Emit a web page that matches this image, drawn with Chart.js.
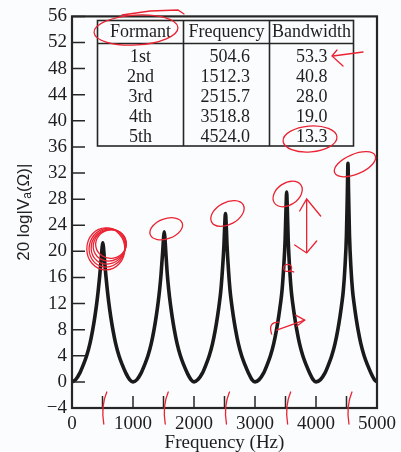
<!DOCTYPE html>
<html>
<head>
<meta charset="utf-8">
<script src="https://cdn.jsdelivr.net/npm/chart.js@4.4.1/dist/chart.umd.min.js"></script>
<style>
  html, body { margin: 0; padding: 0; background: #fbfcfd; }
  #wrap { width: 401px; height: 452px; }
</style>
</head>
<body>
<div id="wrap"><canvas id="formantChart" width="401" height="452"></canvas></div>
<script>
// formant table
const formantNames = ["1st", "2nd", "3rd", "4th", "5th"];
const formantFreq = [504.6, 1512.3, 2515.7, 3518.8, 4524.0];
const formantBw = [53.3, 40.8, 28.0, 19.0, 13.3];

// curve: frequency (Hz) / 20 log|Va| (dB)
const freqHz = [
  0, 60, 125, 185, 240, 295, 340, 375, 405, 430, 455, 480, 495, 505, 515, 530, 555, 580, 605, 635, 670, 715, 770, 825, 885, 945,
  1000, 1065, 1130, 1190, 1245, 1300, 1345, 1380, 1410, 1435, 1460, 1487, 1502, 1512, 1522, 1537, 1562, 1587, 1612, 1642, 1677, 1722, 1777, 1832, 1892, 1950,
  2000, 2065, 2135, 2195, 2250, 2305, 2350, 2385, 2415, 2440, 2465, 2491, 2506, 2516, 2526, 2541, 2566, 2591, 2616, 2646, 2681, 2726, 2781, 2836, 2896, 2950,
  3000, 3068, 3138, 3198, 3253, 3308, 3353, 3388, 3418, 3443, 3468, 3494, 3509, 3519, 3529, 3544, 3569, 3594, 3619, 3649, 3684, 3729, 3784, 3839, 3899, 3953,
  4000, 4073, 4143, 4203, 4258, 4313, 4358, 4393, 4423, 4448, 4473, 4499, 4514, 4524, 4534, 4549, 4574, 4599, 4624, 4654, 4689, 4734, 4789, 4844, 4904, 4958, 5000
];
const levelDb = [
  0, 0.35, 1.3, 2.6, 4.0, 5.9, 8.0, 10.0, 12.0, 14.0, 16.3, 19.0, 20.7, 21.3, 20.7, 19.0, 16.3, 14.0, 12.0, 10.0, 8.0, 5.9, 4.0, 2.6, 1.3, 0.35,
  0, 0.35, 1.3, 2.6, 4.0, 5.9, 8.0, 10.0, 12.0, 14.0, 16.5, 20.0, 22.2, 23.0, 22.2, 20.0, 16.5, 14.0, 12.0, 10.0, 8.0, 5.9, 4.0, 2.6, 1.3, 0.35,
  0, 0.35, 1.3, 2.6, 4.0, 5.9, 8.0, 10.0, 12.0, 14.0, 17.0, 21.0, 24.5, 25.8, 24.5, 21.0, 17.0, 14.0, 12.0, 10.0, 8.0, 5.9, 4.0, 2.6, 1.3, 0.35,
  0, 0.35, 1.3, 2.6, 4.0, 5.9, 8.0, 10.0, 12.0, 14.0, 17.2, 21.8, 26.8, 29.1, 26.8, 21.8, 17.2, 14.0, 12.0, 10.0, 8.0, 5.9, 4.0, 2.6, 1.3, 0.35,
  0, 0.35, 1.3, 2.6, 4.0, 5.9, 8.0, 10.0, 12.0, 14.0, 17.3, 22.5, 29.0, 33.5, 29.0, 22.5, 17.3, 14.0, 12.0, 10.0, 8.0, 5.9, 4.0, 2.6, 1.3, 0.35, 0
];

const yTicks = [-4, 0, 4, 8, 12, 16, 20, 24, 28, 32, 36, 40, 44, 48, 52, 56];
const xTicks = [0, 500, 1000, 1500, 2000, 2500, 3000, 3500, 4000, 4500, 5000];
const xLabelTicks = [0, 1000, 2000, 3000, 4000, 5000];

const ink = "#262626";
const red = "#ea2333";
const serif = "'Liberation Serif', 'Times New Roman', serif";

function ellipse(ctx, cx, cy, rx, ry, rot, a0 = 0, a1 = Math.PI * 2) {
  ctx.beginPath();
  ctx.ellipse(cx, cy, rx, ry, rot, a0, a1);
  ctx.stroke();
}

function line(ctx, pts) {
  ctx.beginPath();
  ctx.moveTo(pts[0][0], pts[0][1]);
  for (let i = 1; i < pts.length; i++) ctx.lineTo(pts[i][0], pts[i][1]);
  ctx.stroke();
}

// frame, inward ticks, table, y title and the red pen marks
const decorPlugin = {
  id: "decor",
  afterDraw(chart) {
    const { ctx, chartArea: a } = chart;
    const x = chart.scales.x, y = chart.scales.y;
    ctx.save();

    ctx.strokeStyle = ink;
    ctx.lineWidth = 1.5;
    ctx.beginPath();
    yTicks.forEach(v => {
      const py = y.getPixelForValue(v);
      ctx.moveTo(a.left, py);
      ctx.lineTo(a.left + 13, py);
    });
    xTicks.forEach(v => {
      const px = x.getPixelForValue(v);
      ctx.moveTo(px, a.bottom);
      ctx.lineTo(px, a.bottom - 12);
    });
    ctx.stroke();

    ctx.lineWidth = 2.2;
    ctx.strokeRect(a.left, a.top, a.right - a.left, a.bottom - a.top);

    // table
    const tL = 97.5, tR = 353.5, tT = 20.5, tB = 146, hB = 43.5, c1 = 183.5, c2 = 269.5;
    ctx.lineWidth = 1.6;
    ctx.strokeRect(tL, tT, tR - tL, tB - tT);
    line(ctx, [[tL, hB], [tR, hB]]);
    line(ctx, [[c1, tT], [c1, tB]]);
    line(ctx, [[c2, tT], [c2, tB]]);
    ctx.fillStyle = "#1e1e1e";
    ctx.font = "18px " + serif;
    ctx.textBaseline = "middle";
    ctx.textAlign = "center";
    ctx.fillText("Formant", (tL + c1) / 2, 32.5);
    ctx.fillText("Frequency", (c1 + c2) / 2, 32.5);
    ctx.fillText("Bandwidth", (c2 + tR) / 2, 32.5);
    formantNames.forEach((n, i) => {
      const ry = 57.5 + i * 20;
      ctx.textAlign = "center";
      ctx.fillText(n, (tL + c1) / 2, ry);
      ctx.textAlign = "right";
      ctx.fillText(formantFreq[i].toFixed(1), 250, ry);
      ctx.fillText(formantBw[i].toFixed(1), 327.5, ry);
    });

    // y title with subscript
    ctx.save();
    ctx.translate(24, (a.top + a.bottom) / 2);
    ctx.rotate(-Math.PI / 2);
    const big = "17px 'Liberation Sans', Arial, sans-serif";
    const small = "12px 'Liberation Sans', Arial, sans-serif";
    const parts = [["20 log|V", big, 0], ["a", small, 4], ["(\u03A9)|", big, 0]];
    let total = 0;
    parts.forEach(p => { ctx.font = p[1]; total += ctx.measureText(p[0]).width; });
    let cx = -total / 2;
    ctx.textAlign = "left";
    ctx.fillStyle = "#222";
    parts.forEach(p => {
      ctx.font = p[1];
      ctx.fillText(p[0], cx, p[2]);
      cx += ctx.measureText(p[0]).width;
    });
    ctx.restore();

    // x title
    ctx.font = "19px " + serif;
    ctx.textAlign = "center";
    ctx.fillText("Frequency (Hz)", (a.left + a.right) / 2, 443);

    // red pen marks
    ctx.strokeStyle = red;
    ctx.lineWidth = 1.3;
    ctx.lineCap = "round";
    ellipse(ctx, 136, 30, 42, 15, -0.06);
    line(ctx, [[122, 15], [150, 11], [178, 10], [184, 14]]);
    ellipse(ctx, 310, 139, 27, 13, -0.08);
    line(ctx, [[363, 52], [333, 56]]);
    line(ctx, [[337, 50], [332, 56], [343, 66]]);

    const peakIdx = formantFreq.map(f => {
      let best = 0;
      freqHz.forEach((h, i) => { if (Math.abs(h - f) < Math.abs(freqHz[best] - f)) best = i; });
      return best;
    });
    const pk = peakIdx.map(i => [x.getPixelForValue(freqHz[i]), y.getPixelForValue(levelDb[i])]);

    // scribble on the 1st peak
    for (let k = 0; k < 5; k++) {
      ellipse(ctx, pk[0][0] + 3 + k * 1.3, pk[0][1] + 6 - k * 1.2, 19 - k * 1.2, 21 - k * 1.4, 0.35 * k);
    }
    ellipse(ctx, pk[1][0] + 2, pk[1][1] - 3, 17, 10, -0.35);
    ellipse(ctx, pk[2][0] + 2, pk[2][1], 18, 11, -0.5);
    ellipse(ctx, pk[3][0] + 1, pk[3][1] + 2, 16, 11, -0.6);
    ellipse(ctx, pk[4][0] + 7, pk[4][1] + 1, 22, 10, -0.4);

    // double arrow and small marks next to the 4th peak
    const ax = pk[3][0] + 20, ay = pk[3][1];
    line(ctx, [[ax, ay + 8], [ax, ay + 60]]);
    line(ctx, [[ax - 7, ay + 19], [ax, ay + 7], [ax + 14, ay + 24]]);
    line(ctx, [[ax - 12, ay + 53], [ax, ay + 61], [ax + 10, ay + 49]]);
    ellipse(ctx, pk[3][0] + 1, pk[3][1] + 76, 4, 3.5, 0);
    line(ctx, [[pk[3][0] + 3, pk[3][1] + 79], [pk[3][0] + 7, pk[3][1] + 80]]);
    const by = y.getPixelForValue(9);
    ctx.beginPath();
    ctx.moveTo(pk[3][0] - 15, by + 11);
    ctx.quadraticCurveTo(pk[3][0] - 19, by - 1, pk[3][0] - 8, by - 1);
    ctx.stroke();
    line(ctx, [[pk[3][0] - 10, by + 7], [pk[3][0] + 18, by - 3]]);
    line(ctx, [[pk[3][0] + 9, by - 8], [pk[3][0] + 18, by - 3], [pk[3][0] + 10, by + 3]]);

    // strokes across the x axis at each formant
    formantFreq.forEach(f => {
      const fx = x.getPixelForValue(f);
      ctx.beginPath();
      ctx.moveTo(fx + 4, a.bottom - 16);
      ctx.quadraticCurveTo(fx - 2, a.bottom - 2, fx + 1, a.bottom + 16);
      ctx.stroke();
    });

    ctx.restore();
  }
};

const ctx = document.getElementById("formantChart").getContext("2d");
new Chart(ctx, {
  type: "line",
  data: {
    datasets: [
      {
        data: freqHz.map((f, i) => ({ x: f, y: levelDb[i] })),
        borderColor: "#1a1a1a",
        borderWidth: 3.6,
        pointRadius: 0,
        cubicInterpolationMode: "monotone",
        fill: false,
      },
    ],
  },
  options: {
    responsive: false,
    animation: false,
    layout: { padding: { top: 14, right: 22, left: 0, bottom: 0 } },
    plugins: {
      legend: { display: false },
      tooltip: { enabled: false },
    },
    scales: {
      x: {
        type: "linear",
        min: 0,
        max: 5000,
        afterBuildTicks: s => { s.ticks = xTicks.map(v => ({ value: v })); },
        afterFit: s => { s.height = 44; },
        ticks: {
          autoSkip: false,
          maxRotation: 0,
          padding: 5,
          color: "#1e1e1e",
          font: { family: serif, size: 19 },
          callback: v => (xLabelTicks.includes(v) ? String(v) : ""),
        },
        grid: { display: false, drawTicks: false },
        border: { display: false },
      },
      y: {
        min: -4,
        max: 56,
        afterBuildTicks: s => { s.ticks = yTicks.map(v => ({ value: v })); },
        afterFit: s => { s.width = 72; },
        ticks: {
          autoSkip: false,
          padding: 5,
          color: "#1e1e1e",
          font: { family: serif, size: 19 },
          callback: v => (v < 0 ? "\u2212" + -v : String(v)),
        },
        grid: { display: false, drawTicks: false },
        border: { display: false },
      },
    },
  },
  plugins: [decorPlugin],
});
</script>
</body>
</html>
